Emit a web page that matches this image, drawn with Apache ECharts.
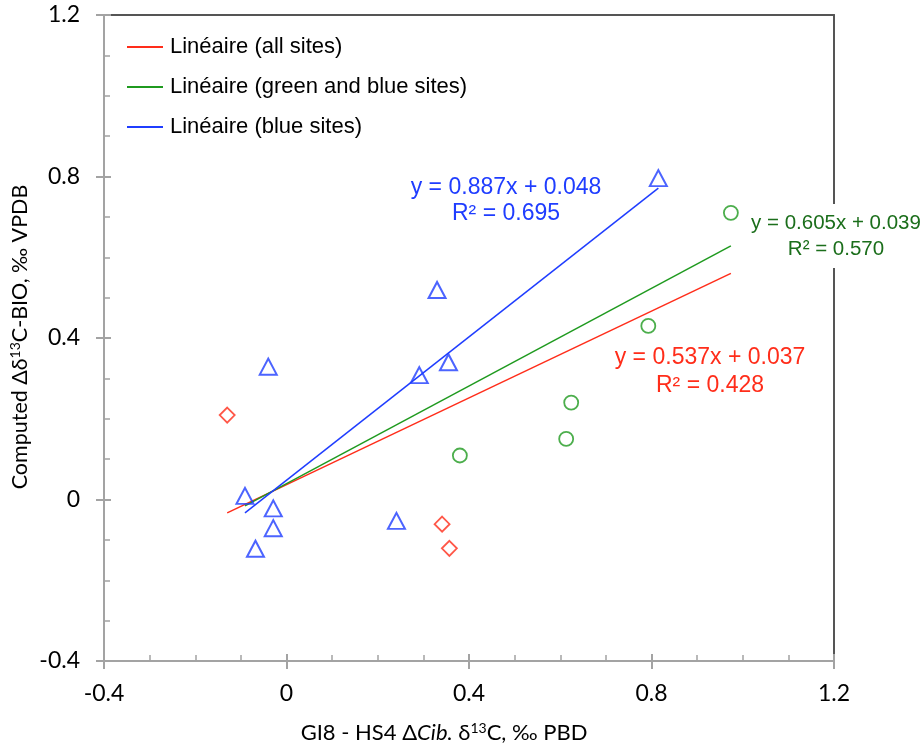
<!DOCTYPE html>
<html>
<head>
<meta charset="utf-8">
<script src="https://cdn.jsdelivr.net/npm/echarts@6/dist/echarts.min.js"></script>
<style>
html,body{margin:0;padding:0;background:#fff;}
#chart{width:924px;height:746px;}
</style>
</head>
<body>
<div id="chart"></div>
<script>
// ---- data ----
const blueSites = [
  [-0.091, 0.009], [-0.040, 0.329], [-0.029, -0.022], [-0.029, -0.071],
  [-0.068, -0.122], [0.291, 0.308], [0.355, 0.340], [0.241, -0.053],
  [0.330, 0.519], [0.815, 0.796]
];
const redSites = [
  [-0.130, 0.209], [0.341, -0.061], [0.357, -0.121]
];
const greenSites = [
  [0.974, 0.710], [0.793, 0.430], [0.624, 0.240], [0.613, 0.150], [0.380, 0.109]
];
// trend line end points (as drawn in the reference)
const trendAll = [[-0.130, -0.033], [0.974, 0.560]];
const trendGreenBlue = [[-0.091, -0.016], [0.974, 0.628]];
const trendBlue = [[-0.091, -0.033], [0.815, 0.771]];
const legendNames = ['Linéaire (all sites)', 'Linéaire (green and blue sites)', 'Linéaire (blue sites)'];
const eqAll = 'y = 0.537x + 0.037\nR² = 0.428';
const eqGreenBlue = 'y = 0.605x + 0.039\nR² = 0.570';
const eqBlue = 'y = 0.887x + 0.048\nR² = 0.695';
const xTicks = { min: -0.4, max: 1.2, interval: 0.4 };
const yTicks = { min: -0.4, max: 1.2, interval: 0.4 };

const RED = '#ff2d1a', GREEN = '#1f9a1f', GREEN_TXT = '#1b6e1b', BLUE = '#1f3dff';
const AXIS = '#a3a3a3', BORDER = '#555555';
const tickFont = { fontFamily: 'Lato', fontSize: 23, color: '#000' };

const chart = echarts.init(document.getElementById('chart'), null, { renderer: 'canvas' });

function baseAxis(extra) {
  return Object.assign({
    type: 'value', splitLine: { show: false }
  }, extra);
}

const option = {
  animation: false,
  backgroundColor: '#fff',
  grid: { left: 104, top: 15, right: 90, bottom: 85, containLabel: false, show: false },
  xAxis: [
    baseAxis({ min: xTicks.min, max: xTicks.max, interval: xTicks.interval, position: 'bottom',
      axisLine: { show: true, onZero: false, lineStyle: { color: AXIS, width: 2 } },
      axisTick: { show: true, inside: false, length: 8, lineStyle: { color: AXIS, width: 2 } },
      axisLabel: Object.assign({ margin: 21, formatter: v => String(+v.toFixed(1)) }, tickFont) }),
    baseAxis({ min: xTicks.min, max: xTicks.max, interval: xTicks.interval, position: 'bottom',
      axisLine: { show: false, onZero: false },
      axisTick: { show: true, inside: true, length: 7, lineStyle: { color: AXIS, width: 2 } },
      minorTick: { show: true, splitNumber: 4, length: 6, lineStyle: { color: AXIS, width: 1.5 } },
      axisLabel: { show: false } }),
    baseAxis({ min: xTicks.min, max: xTicks.max, position: 'top',
      axisLine: { show: true, onZero: false, lineStyle: { color: BORDER, width: 2 } },
      axisTick: { show: false }, axisLabel: { show: false } })
  ],
  yAxis: [
    baseAxis({ min: yTicks.min, max: yTicks.max, interval: yTicks.interval, position: 'left',
      axisLine: { show: true, onZero: false, lineStyle: { color: AXIS, width: 2 } },
      axisTick: { show: true, inside: false, length: 8, lineStyle: { color: AXIS, width: 2 } },
      axisLabel: Object.assign({ margin: 24, formatter: v => String(+v.toFixed(1)) }, tickFont) }),
    baseAxis({ min: yTicks.min, max: yTicks.max, interval: yTicks.interval, position: 'left',
      axisLine: { show: false, onZero: false },
      axisTick: { show: true, inside: true, length: 7, lineStyle: { color: AXIS, width: 2 } },
      minorTick: { show: true, splitNumber: 4, length: 6, lineStyle: { color: AXIS, width: 1.5 } },
      axisLabel: { show: false } }),
    baseAxis({ min: yTicks.min, max: yTicks.max, position: 'right',
      axisLine: { show: true, onZero: false, lineStyle: { color: BORDER, width: 2 } },
      axisTick: { show: false }, axisLabel: { show: false } })
  ],
  legend: {
    data: legendNames,
    orient: 'vertical',
    left: 122, top: 31,
    icon: 'rect', itemWidth: 36, itemHeight: 2,
    itemGap: 18,
    selectedMode: false,
    textStyle: { fontFamily: 'Liberation Sans', fontSize: 22, color: '#000', padding: [0, 0, 0, 2], lineHeight: 22 }
  },
  series: [
    { name: legendNames[0], type: 'line', data: trendAll, showSymbol: false, symbol: 'none',
      lineStyle: { color: RED, width: 1.5 }, itemStyle: { color: RED }, z: 3 },
    { name: legendNames[1], type: 'line', data: trendGreenBlue, showSymbol: false, symbol: 'none',
      lineStyle: { color: GREEN, width: 1.5 }, itemStyle: { color: GREEN }, z: 3 },
    { name: legendNames[2], type: 'line', data: trendBlue, showSymbol: false, symbol: 'none',
      lineStyle: { color: BLUE, width: 1.5 }, itemStyle: { color: BLUE }, z: 3 },
    { name: 'blue', type: 'scatter', data: blueSites, symbol: 'triangle', symbolSize: [17, 16],
      itemStyle: { color: 'rgba(0,0,0,0)', borderColor: BLUE, borderWidth: 2 }, z: 4 },
    { name: 'red', type: 'scatter', data: redSites, symbol: 'diamond', symbolSize: [15, 15],
      itemStyle: { color: 'rgba(0,0,0,0)', borderColor: RED, borderWidth: 1.8 }, z: 4 },
    { name: 'green', type: 'scatter', data: greenSites, symbol: 'circle', symbolSize: 14,
      itemStyle: { color: 'rgba(0,0,0,0)', borderColor: GREEN, borderWidth: 1.8 }, z: 4 }
  ],
  graphic: [
    { type: 'text', x: 506, y: 201, z: 10,
      style: { text: eqBlue, fill: BLUE, font: '23px "Liberation Sans"', align: 'center', verticalAlign: 'middle', lineHeight: 26 } },
    { type: 'text', x: 710, y: 372, z: 10,
      style: { text: eqAll, fill: RED, font: '23px "Liberation Sans"', align: 'center', verticalAlign: 'middle', lineHeight: 28 } },
    { type: 'text', x: 836, y: 236, z: 10,
      style: { text: eqGreenBlue, fill: GREEN_TXT, font: '20.5px "Liberation Sans"', align: 'center', verticalAlign: 'middle', lineHeight: 26,
        backgroundColor: '#fff', padding: [6, 2, 6, 2] } },
    { type: 'text', x: 444, y: 733, z: 10,
      style: {
        text: '{a|GI8 - HS4 Δ}{i|Cib.}{a| δ}{s|13}{a|C, ‰ PBD}',
        align: 'center', verticalAlign: 'middle',
        rich: {
          a: { fontFamily: 'Lato', fontSize: 22, fill: '#000' },
          i: { fontFamily: 'Lato', fontSize: 22, fontStyle: 'italic', fill: '#000' },
          s: { fontFamily: 'Lato', fontSize: 14, fill: '#000', padding: [0, 0, 10, 0] }
        }
      } },
    { type: 'text', x: 20, y: 337, rotation: Math.PI / 2, z: 10,
      style: {
        text: '{a|Computed Δδ}{s|13}{a|C-BIO, ‰ VPDB}',
        align: 'center', verticalAlign: 'middle',
        rich: {
          a: { fontFamily: 'Lato', fontSize: 21.5, fill: '#000' },
          s: { fontFamily: 'Lato', fontSize: 14, fill: '#000', padding: [0, 0, 10, 0] }
        }
      } }
  ]
};
chart.setOption(option);
</script>
</body>
</html>
